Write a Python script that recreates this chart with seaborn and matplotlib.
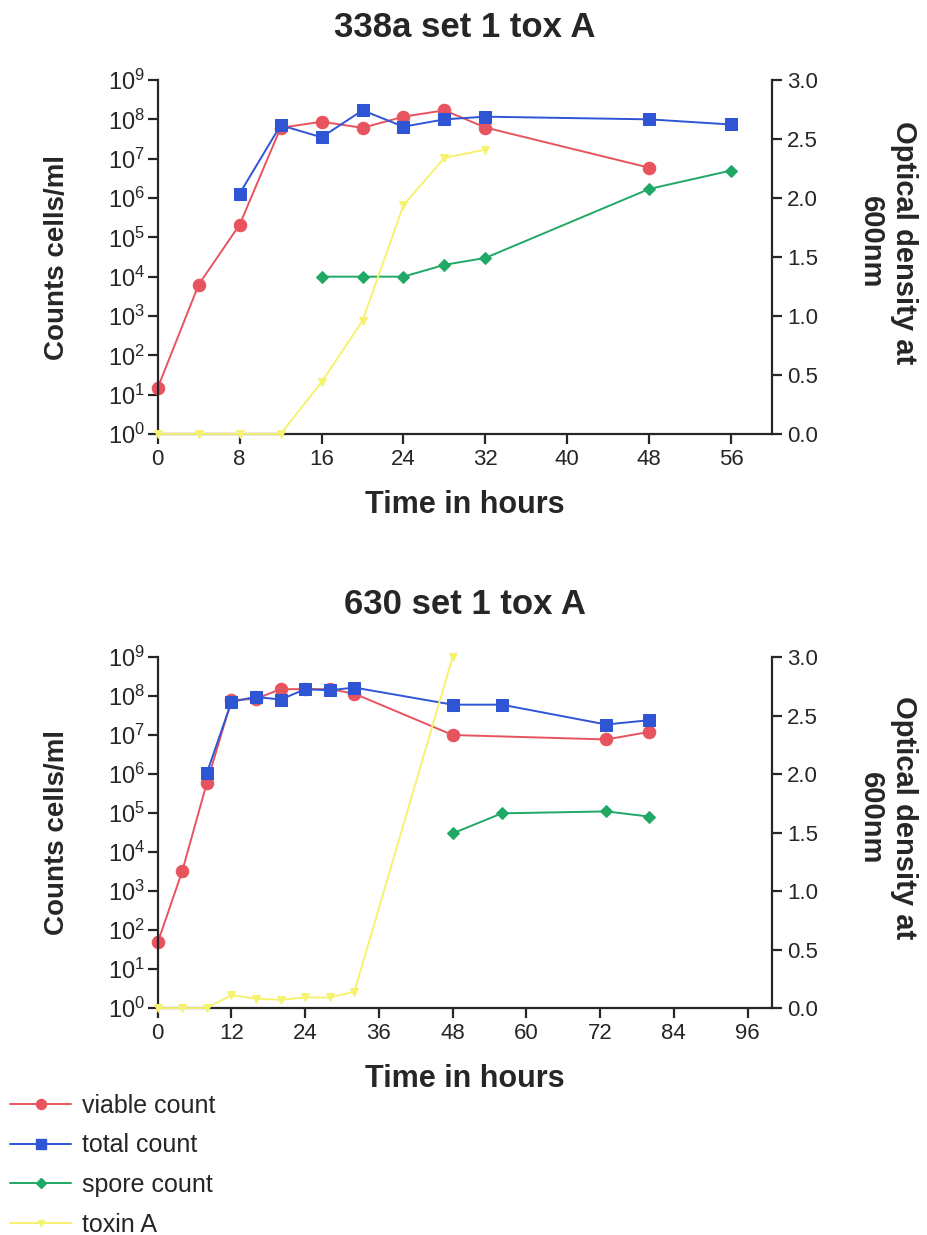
import seaborn as sns
import pandas as pd
import numpy as np
import matplotlib.pyplot as plt
from matplotlib.lines import Line2D
from matplotlib.ticker import LogLocator, FixedLocator, FormatStrFormatter

# ---- panel 1: 338a set 1 tox A ----
hours_338a = [0, 4, 8, 12, 16, 20, 24, 28, 32, 48, 56]
viable_338a = [15, 6300, 2.1e5, 6.1e7, 8.7e7, 6.1e7, 1.17e8, 1.7e8, 6.2e7, 5.9e6, np.nan]
total_338a = [np.nan, np.nan, 1.3e6, 7.1e7, 3.5e7, 1.7e8, 6.5e7, 1.0e8, 1.17e8, 1.0e8, 7.4e7]
spore_338a = [np.nan, np.nan, np.nan, np.nan, 1e4, 1e4, 1e4, 2e4, 3e4, 1.7e6, 5e6]
toxin_338a = [0.0, 0.0, 0.0, 0.0, 0.44, 0.96, 1.94, 2.34, 2.41, np.nan, np.nan]

# ---- panel 2: 630 set 1 tox A ----
hours_630 = [0, 4, 8, 12, 16, 20, 24, 28, 32, 48, 56, 73, 80]
viable_630 = [48, 3300, 6e5, 7.8e7, 8.5e7, 1.5e8, 1.5e8, 1.5e8, 1.15e8, 1e7, np.nan, 7.7e6, 1.2e7]
total_630 = [np.nan, np.nan, 1.07e6, 7.1e7, 9.5e7, 8.1e7, 1.5e8, 1.4e8, 1.65e8, 6e7, 6e7, 1.86e7, 2.4e7]
spore_630 = [np.nan] * 9 + [3e4, 9.8e4, 1.1e5, 8.1e4]
toxin_630 = [0.0, 0.0, 0.0, 0.11, 0.08, 0.07, 0.09, 0.09, 0.14, 3.0, np.nan, np.nan, np.nan]

series_names = ["viable count", "total count", "spore count", "toxin A"]
colors = {"viable count": "#E8545E", "total count": "#2F55D4",
          "spore count": "#20A865", "toxin A": "#F6F270"}
markers = {"viable count": "o", "total count": "s", "spore count": "D", "toxin A": "v"}
msizes = {"viable count": 9, "total count": 8.5, "spore count": 6, "toxin A": 6}

sns.set_style("ticks")
plt.rcParams['font.family'] = ['Liberation Sans', 'DejaVu Sans']
plt.rcParams['mathtext.fontset'] = 'custom'
plt.rcParams['mathtext.rm'] = 'Liberation Sans'
plt.rcParams['mathtext.it'] = 'Liberation Sans'

fig = plt.figure(figsize=(9.28, 12.35), dpi=100)


def draw_panel(rect, title, hours, viable, total, spore, toxin, xmax, xstep):
    ax = fig.add_axes(rect)
    ax2 = ax.twinx()
    df = pd.DataFrame({"hours": hours, "viable count": viable, "total count": total,
                       "spore count": spore, "toxin A": toxin})
    for name in series_names[:3]:
        d = df[["hours", name]].dropna()
        sns.lineplot(data=d, x="hours", y=name, ax=ax, color=colors[name],
                     marker=markers[name], markersize=msizes[name],
                     markeredgecolor=colors[name], linewidth=1.4, clip_on=False)
    d = df[["hours", "toxin A"]].dropna()
    sns.lineplot(data=d, x="hours", y="toxin A", ax=ax2, color=colors["toxin A"],
                 marker=markers["toxin A"], markersize=msizes["toxin A"],
                 markeredgecolor=colors["toxin A"], linewidth=1.4, clip_on=False)

    ax.set_yscale('log')
    ax.set_ylim(1, 1e9)
    ax.yaxis.set_major_locator(LogLocator(base=10, numticks=12))
    ax.yaxis.set_minor_locator(FixedLocator([]))
    ax.set_xlim(0, xmax)
    ax.set_xticks(np.arange(0, xmax, xstep))
    ax2.set_ylim(0, 3.0)
    ax2.set_yticks(np.arange(0, 3.01, 0.5))
    ax2.yaxis.set_major_formatter(FormatStrFormatter('%.1f'))

    for a in (ax, ax2):
        a.spines['top'].set_visible(False)
        for s in a.spines.values():
            s.set_linewidth(1.6)
        a.tick_params(width=1.6, length=7, labelsize=16, direction='out', pad=4)
        a.set_xlabel("")
        a.set_ylabel("")
    ax.tick_params(axis='y', labelsize=17, pad=2)
    ax.spines['right'].set_visible(False)
    ax2.spines['left'].set_visible(False)
    ax2.spines['bottom'].set_visible(False)

    ax.set_title(title, fontsize=25, fontweight='bold', pad=31)
    ax.set_xlabel("Time in hours", fontsize=22, fontweight='bold', labelpad=14)
    ax.set_ylabel("Counts cells/ml", fontsize=20, fontweight='bold')
    ax.yaxis.set_label_coords(-0.143, 0.5)

    # right-hand axis title, two lines reading top to bottom
    cy = rect[1] + rect[3] / 2 + 0.012
    fig.text(0.956, cy, "Optical density at\n600nm", fontsize=21, fontweight='bold',
             rotation=270, ha='center', va='center', linespacing=1.25,
             multialignment='center')
    return ax


draw_panel([0.170, 0.6486, 0.662, 0.2866], "338a set 1 tox A",
           hours_338a, viable_338a, total_338a, spore_338a, toxin_338a, 60, 8)
draw_panel([0.170, 0.1838, 0.662, 0.2842], "630 set 1 tox A",
           hours_630, viable_630, total_630, spore_630, toxin_630, 100, 12)

handles = [Line2D([0], [0], color=colors[n], marker=markers[n], markersize=msizes[n] * 0.8,
                  markeredgecolor=colors[n], linewidth=1.4) for n in series_names]
fig.legend(handles, series_names, loc='upper left', bbox_to_anchor=(0.0, 1 - 1084 / 1235),
           frameon=False, fontsize=18, handlelength=2.45, labelspacing=0.62,
           handletextpad=0.45, borderaxespad=0.0)

fig.savefig("out.png", dpi=100, facecolor='white')
